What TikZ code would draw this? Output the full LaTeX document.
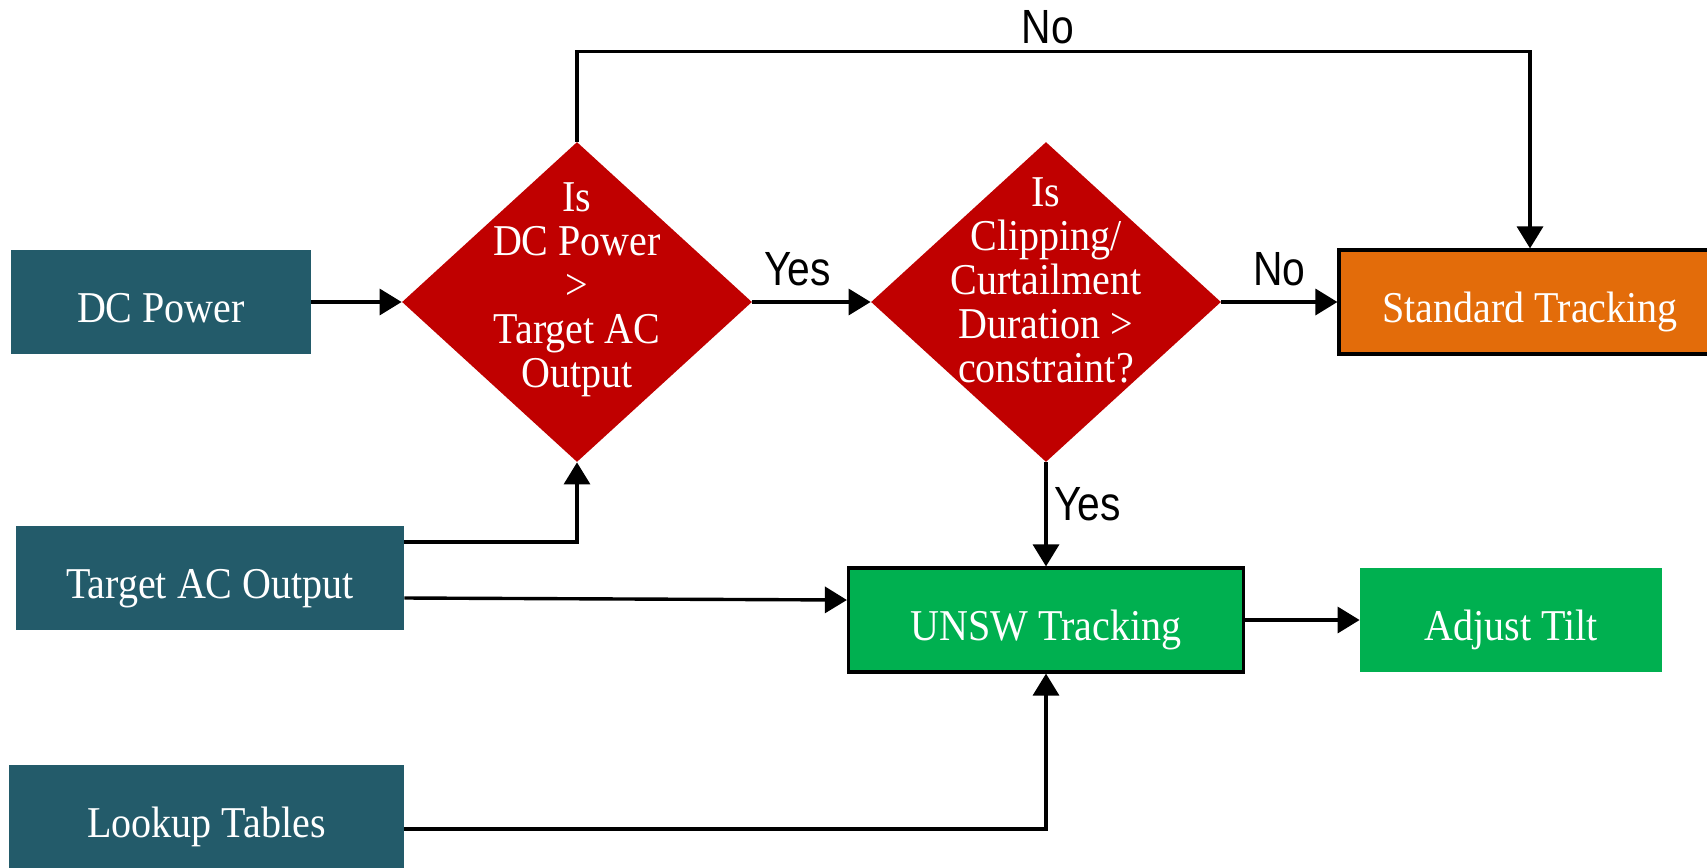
\documentclass[tikz,border=0pt]{standalone}
\usepackage{fontspec}
\usepackage{tikz}
\usetikzlibrary{positioning, calc}
\usetikzlibrary{arrows.meta}
\usetikzlibrary{shapes.geometric}
\newfontfamily\boxfont[FakeStretch=0.91]{Liberation Serif}
\newfontfamily\lblfont[FakeStretch=0.85]{Liberation Sans}
\definecolor{ingresso}{RGB}{35,91,106}
\definecolor{decisione}{RGB}{192,0,0}
\definecolor{arancio}{RGB}{227,108,10}
\definecolor{verde}{RGB}{0,176,80}

\begin{document}
\begin{tikzpicture}[x=0.5pt,y=-0.5pt,>={Triangle[length=11pt,width=13pt]},
  blocco/.style={rectangle, text=white, inner sep=0pt, minimum height=52pt,
    text height=20pt, text depth=0pt,
    font=\boxfont\fontsize{22}{22}\selectfont},
  ingr/.style={blocco, fill=ingresso},
  bordo/.style={draw=black, line width=1.6pt},
  decis/.style={diamond, fill=decisione, inner sep=0pt,
    minimum width=175pt, minimum height=160pt},
  dtesto/.style={text=white, align=center, inner sep=0pt,
    font=\boxfont\fontsize{22}{22}\selectfont},
  etich/.style={font=\lblfont\fontsize{24}{24}\selectfont},
  freccia/.style={->, line width=1.7pt}]

\useasboundingbox (0,0) rectangle (1707,867);

% ================== Ingressi ==================
\node[ingr, minimum width=150pt] (dc) at (161,302) {DC Power};
\node[ingr, minimum width=194pt] (target) at (210,578) {Target AC Output};
\node[ingr, minimum width=197.5pt] (lookup) at (206.5,817) {Lookup Tables};

% ================== Decisioni ==================
\node[decis] (d1) at (577,302) {};
\node[dtesto] (d1testo) at ([yshift=6pt]d1.center) {Is\\DC Power\\>\\Target AC\\Output};
\node[decis] (d2) at (1046,302) {};
\node[dtesto] (d2testo) at ([yshift=11pt]d2.center) {Is\\Clipping/\\Curtailment\\Duration >\\constraint?};

% ================== Uscite ==================
\node[blocco, bordo, fill=arancio, minimum width=191pt] (std) at (1530,302) {Standard Tracking};
\node[blocco, bordo, fill=verde, minimum width=197.5pt] (unsw) at (1046,620) {UNSW Tracking};
\node[blocco, fill=verde, minimum width=151pt] (tilt) at (1511,620) {Adjust Tilt};

% --- Collegamenti
\draw[freccia] (dc.east) -- (d1.west);
\draw[freccia] (d1.east) -- (d2.west) node[etich, pos=0.38, above=4pt] (si1) {Yes};
\draw[freccia] (d2.east) -- (std.west) node[etich, midway, above=4pt] (no2) {No};
\draw[freccia] (d1.north) -- ++(0,-90) coordinate (angolo) -| (std.north);
\node[etich] (no1) at (1048,27) {No};
\draw[freccia] ([yshift=18pt]target.east) -| (d1.south);
\draw[freccia] ([yshift=-10pt]target.east) -- ([yshift=10pt]unsw.west);
\draw[freccia] (d2.south) -- (unsw.north) node[etich, pos=0.4, right] (si2) {Yes};
\draw[freccia] (unsw.east) -- (tilt.west);
\draw[freccia] ([yshift=-6pt]lookup.east) -| (unsw.south);

\end{tikzpicture}
\end{document}
